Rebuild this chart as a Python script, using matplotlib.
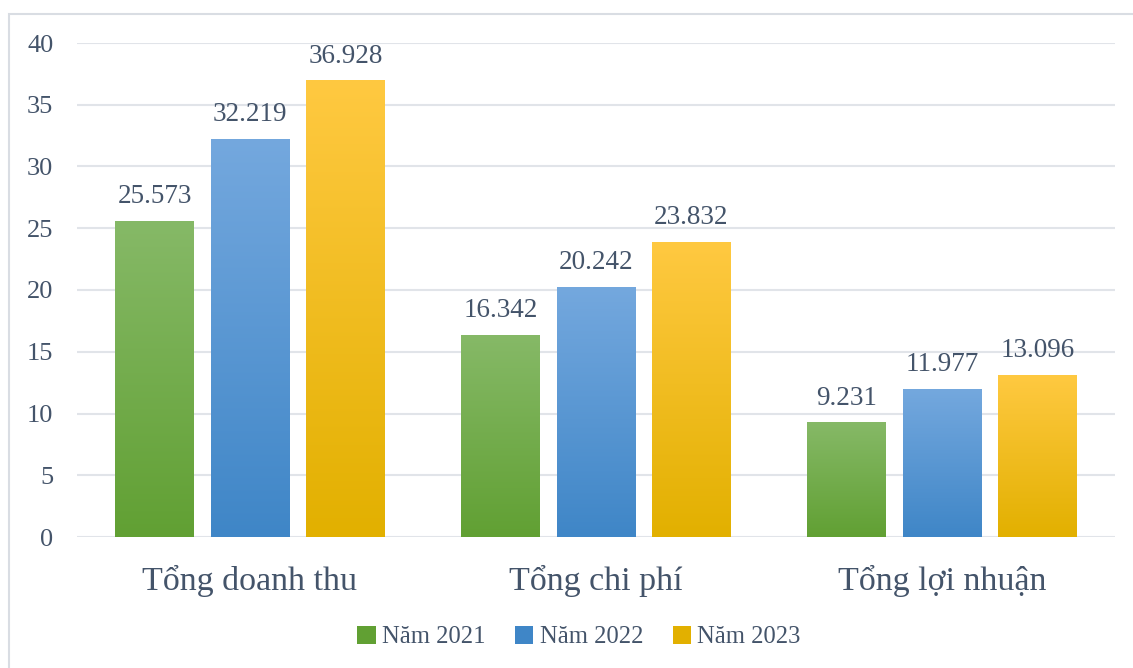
import numpy as np
import matplotlib.pyplot as plt
from matplotlib.colors import LinearSegmentedColormap
from matplotlib.patches import Rectangle

categories = ["Tổng doanh thu", "Tổng chi phí", "Tổng lợi nhuận"]
years = ["Năm 2021", "Năm 2022", "Năm 2023"]
v2021 = [25.573, 16.342, 9.231]
v2022 = [32.219, 20.242, 11.977]
v2023 = [36.928, 23.832, 13.096]
labels2021 = ["25.573", "16.342", "9.231"]
labels2022 = ["32.219", "20.242", "11.977"]
labels2023 = ["36.928", "23.832", "13.096"]

# (top colour, bottom colour) for each series gradient
grads = [("#86b967", "#61a033"), ("#74a8de", "#3f86c7"), ("#ffc941", "#e2b000")]
txt = "#44546a"

plt.rcParams["font.family"] = ["Liberation Serif", "DejaVu Serif"]

fig = plt.figure(figsize=(11.33, 6.68), dpi=100)
ax = fig.add_axes([77 / 1133, 1 - 537 / 668, 1038 / 1133, 494 / 668])

# outer frame
fig.patches.append(Rectangle((9 / 1133, -0.1), 1.2, (668 - 14) / 668 + 0.1,
                             transform=fig.transFigure, fill=False,
                             edgecolor="#d9dde3", linewidth=1.5))

x = np.arange(len(categories))
width = 0.226
step = 0.276
series = [v2021, v2022, v2023]
texts = [labels2021, labels2022, labels2023]

grad = np.linspace(1, 0, 256).reshape(-1, 1)
for i, (vals, labs) in enumerate(zip(series, texts)):
    cmap = LinearSegmentedColormap.from_list("g%d" % i, [grads[i][1], grads[i][0]])
    pos = x + (i - 1) * step
    bars = ax.bar(pos, vals, width, color="none", label=years[i], zorder=3)
    for b, v, lab in zip(bars, vals, labs):
        x0 = b.get_x()
        ax.imshow(grad, cmap=cmap, extent=(x0, x0 + width, 0, v),
                  aspect="auto", zorder=3, interpolation="bicubic")
        ax.text(b.get_x() + width / 2, v + 1.0, lab, ha="center", va="bottom",
                fontsize=19.5, color=txt)

ax.set_xlim(-0.5, 2.5)
ax.set_ylim(0, 40)
ax.set_yticks(range(0, 41, 5))
ax.set_xticks(x)
ax.set_xticklabels(categories, fontsize=24.5, color=txt)
ax.tick_params(axis="y", labelsize=19, labelcolor=txt, length=0, pad=17)
ax.tick_params(axis="x", length=0, pad=20)
ax.grid(axis="y", color="#e1e4e9", linewidth=1.5, zorder=0)
for s in ax.spines.values():
    s.set_visible(False)

handles = [Rectangle((0, 0), 1, 1, facecolor=g[1]) for g in grads]
fig.legend(handles, years, loc="center", bbox_to_anchor=(579 / 1133, 1 - 637 / 668),
           ncol=3, frameon=False, fontsize=17.7, labelcolor=txt,
           handlelength=0.75, handleheight=0.75, handletextpad=0.25, columnspacing=1.2)

fig.savefig("out.png", dpi=100)
